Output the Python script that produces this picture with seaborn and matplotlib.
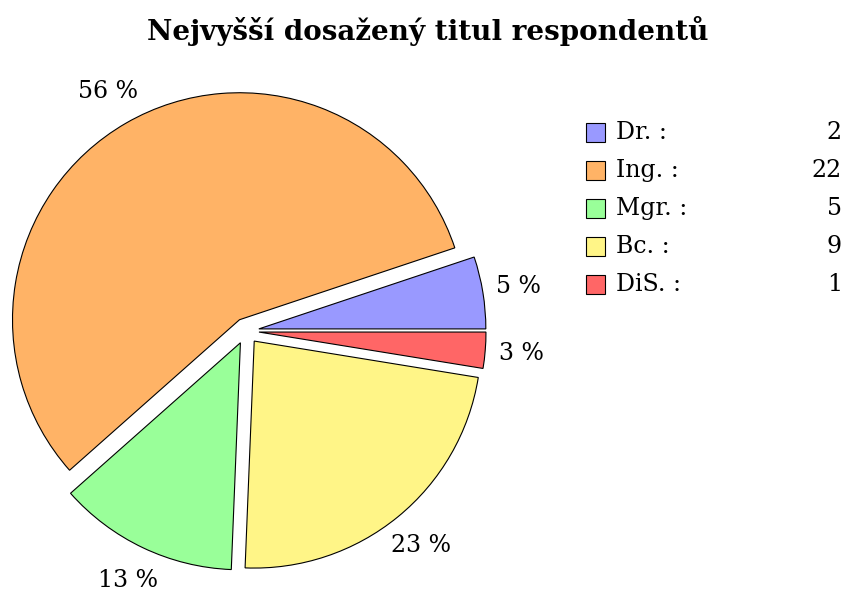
import matplotlib
matplotlib.use("Agg")
import matplotlib.pyplot as plt
import seaborn as sns
from matplotlib.patches import Rectangle

categories = ["Dr.", "Ing.", "Mgr.", "Bc.", "DiS."]
counts = [2, 22, 5, 9, 1]
colors = ["#9999ff", "#ffb366", "#99ff99", "#fff587", "#ff6666"]
title = "Nejvyšší dosažený titul respondentů"

sns.set_style("white")
plt.rcParams["font.family"] = ["DejaVu Serif"]
plt.rcParams["text.color"] = "black"

W, H = 846, 596
fig = plt.figure(figsize=(W / 100, H / 100), dpi=100)
ax = fig.add_axes([0, 0, 1, 1])

palette = sns.color_palette(colors)
R = 227
wedges, texts, autotexts = ax.pie(
    counts,
    colors=palette,
    startangle=0,
    counterclock=True,
    explode=[13] * len(counts),
    center=(246, H - 331),
    radius=R,
    labels=None,
    autopct=lambda p: f"{round(p):d} %",
    pctdistance=1.16,
    wedgeprops=dict(edgecolor="black", linewidth=0.8),
    textprops=dict(fontsize=17, color="black"),
    frame=True,
)
ax.set_xlim(0, W)
ax.set_ylim(0, H)
ax.set_aspect("equal")
ax.axis("off")

fig.text(428 / W, 1 - 31 / H, title, ha="center", va="center",
         fontsize=20, fontweight="bold", color="black")

# legend
row_y = [132.5, 170.5, 208.5, 246.5, 284.5]
for i, (cat, cnt, col) in enumerate(zip(categories, counts, palette)):
    y = row_y[i]
    ax.add_patch(Rectangle((586, H - y - 9.5), 19, 19, facecolor=col,
                           edgecolor="black", linewidth=0.8))
    ax.text(616, H - y, f"{cat} :", ha="left", va="center", fontsize=17,
            color="black")
    ax.text(842, H - y, f"{cnt}", ha="right", va="center", fontsize=17,
            color="black")

fig.savefig("out.png", dpi=100)
